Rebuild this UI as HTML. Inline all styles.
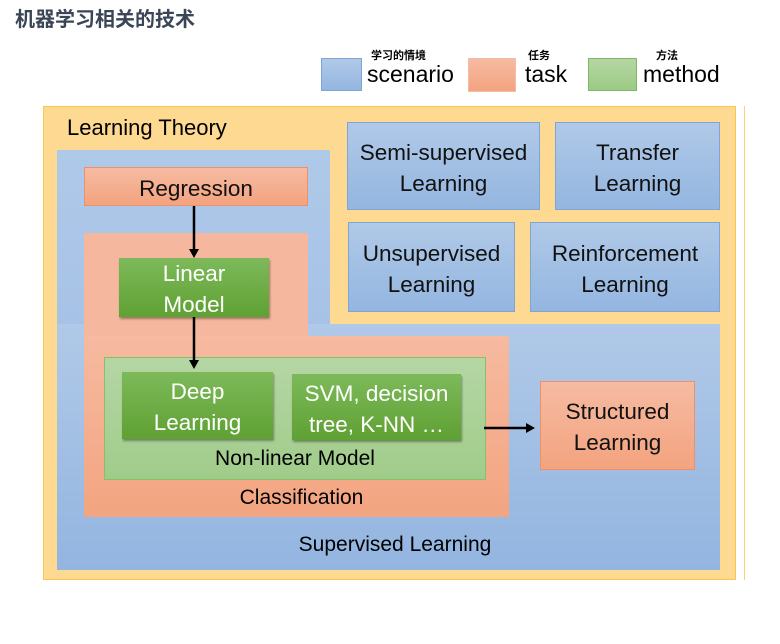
<!DOCTYPE html>
<html><head><meta charset="utf-8"><style>
body{margin:0;width:780px;height:644px;background:#fff;position:relative;overflow:hidden;font-family:"Liberation Sans","Noto Sans CJK SC",sans-serif;}
.a{position:absolute;box-sizing:border-box;}
.t{position:absolute;display:flex;align-items:center;justify-content:center;text-align:center;line-height:31px;font-size:22.5px;color:#111;box-sizing:border-box;padding-top:3px;}
.blue{background:linear-gradient(#b0c9e8,#94b6e0);border:1px solid #7fa4d6;}
.sal{background:linear-gradient(#f6bba2,#f3a37f);border:1px solid #ee9166;}
.grn{background:linear-gradient(#7db95a,#5fa133);color:#fff;box-shadow:1px 2px 2px rgba(0,0,0,.35);}
</style></head><body>
<div class="a" style="left:15px;top:3px;font-size:20px;font-weight:bold;color:#3a4556;font-family:'Noto Sans CJK SC',sans-serif;">机器学习相关的技术</div>

<div class="a blue" style="left:321px;top:58px;width:41px;height:33px;"></div>
<div class="a" style="left:371px;top:47px;font-size:11px;font-weight:bold;font-family:'Noto Sans CJK SC',sans-serif;">学习的情境</div>
<div class="a" style="left:367px;top:61px;font-size:23px;">scenario</div>
<div class="a sal" style="left:468px;top:58px;width:48px;height:34px;border-color:#f6bba2;"></div>
<div class="a" style="left:528px;top:47px;font-size:11px;font-weight:bold;font-family:'Noto Sans CJK SC',sans-serif;">任务</div>
<div class="a" style="left:525px;top:61px;font-size:23px;">task</div>
<div class="a" style="left:588px;top:58px;width:49px;height:33px;background:linear-gradient(#b5d6a3,#9ccb85);border:1px solid #7fb765;"></div>
<div class="a" style="left:656px;top:47px;font-size:11px;font-weight:bold;font-family:'Noto Sans CJK SC',sans-serif;">方法</div>
<div class="a" style="left:643px;top:61px;font-size:23px;">method</div>

<div class="a" style="left:43px;top:106px;width:693px;height:474px;background:#fed991;border:1px solid #f9c74c;"></div>
<div class="a" style="left:744px;top:106px;width:1px;height:474px;background:#fbd46a;"></div>
<div class="a" style="left:67px;top:115px;font-size:22px;">Learning Theory</div>

<div class="a" style="left:57px;top:150px;width:273px;height:176px;background:linear-gradient(#afc9e9,#a6c2e6);"></div>
<div class="a" style="left:57px;top:324px;width:663px;height:246px;background:linear-gradient(#b0c9e8,#93b5e0);"></div>

<div class="t sal" style="left:84px;top:167px;width:224px;height:39px;">Regression</div>
<div class="a" style="left:84px;top:233px;width:224px;height:104px;background:#f5b79d;"></div>
<div class="a" style="left:84px;top:336px;width:425px;height:181px;background:linear-gradient(#f6baa0,#f3a480);"></div>
<div class="t grn" style="left:119px;top:258px;width:150px;height:59px;">Linear<br>Model</div>

<div class="a" style="left:104px;top:357px;width:382px;height:123px;background:linear-gradient(#b5d6a4,#a0cc8a);border:1px solid #86c06a;"></div>
<div class="t grn" style="left:122px;top:372px;width:151px;height:67px;">Deep<br>Learning</div>
<div class="t grn" style="left:292px;top:374px;width:169px;height:66px;">SVM, decision<br>tree, K-NN …</div>
<div class="a" style="left:104px;top:447px;width:382px;text-align:center;font-size:21px;">Non-linear Model</div>
<div class="a" style="left:84px;top:486px;width:435px;text-align:center;font-size:21px;">Classification</div>
<div class="a" style="left:57px;top:533px;width:676px;text-align:center;font-size:21px;">Supervised Learning</div>

<div class="t sal" style="left:540px;top:381px;width:155px;height:89px;">Structured<br>Learning</div>

<div class="t blue" style="left:347px;top:122px;width:193px;height:88px;">Semi-supervised<br>Learning</div>
<div class="t blue" style="left:555px;top:122px;width:165px;height:88px;">Transfer<br>Learning</div>
<div class="t blue" style="left:348px;top:222px;width:167px;height:90px;">Unsupervised<br>Learning</div>
<div class="t blue" style="left:530px;top:222px;width:190px;height:90px;">Reinforcement<br>Learning</div>

<svg class="a" style="left:0;top:0" width="780" height="644">
<g stroke="#000" stroke-width="2.5" fill="none">
<line x1="194" y1="206" x2="194" y2="250"/>
<line x1="194" y1="317" x2="194" y2="361"/>
<line x1="484" y1="428" x2="527" y2="428"/>
</g>
<g fill="#000">
<polygon points="189,249 199,249 194,258"/>
<polygon points="189,360 199,360 194,369"/>
<polygon points="526,423 526,433 535,428"/>
</g>
</svg>
</body></html>
